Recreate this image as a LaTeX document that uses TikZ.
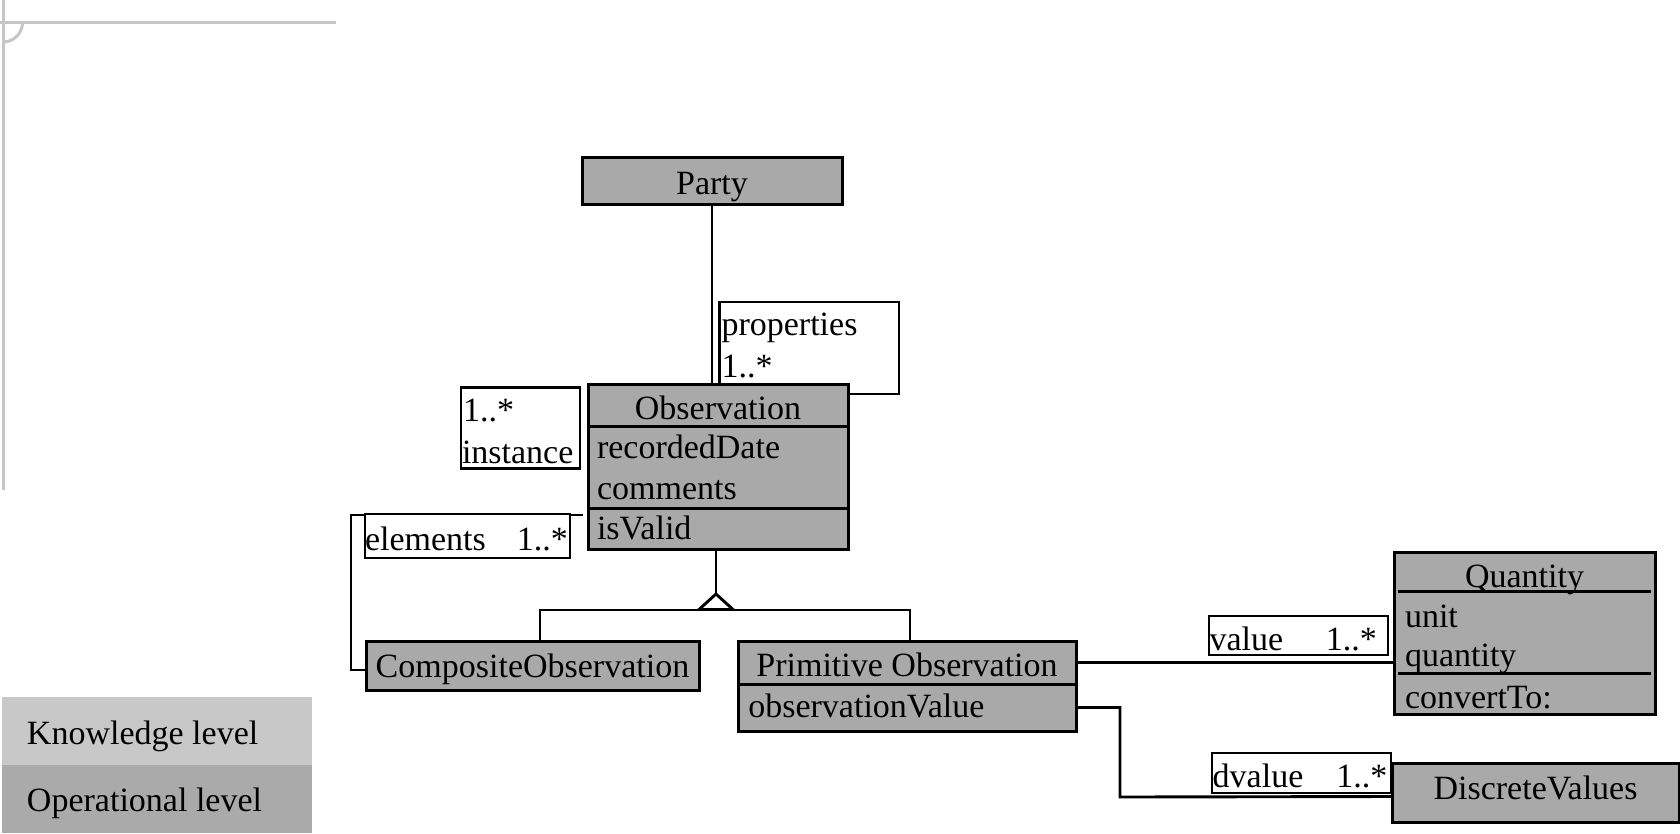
\documentclass[tikz,border=0pt]{standalone}
\usepackage{fontspec}
\setmainfont{Liberation Serif}
\usetikzlibrary{calc}

\definecolor{classfill}{HTML}{A9A9A9}
\definecolor{knowfill}{HTML}{C8C8C8}
\definecolor{opfill}{HTML}{AAAAAA}
\definecolor{framegrey}{HTML}{C6C6C6}

\tikzset{
  compart/.style={draw=black, line width=3pt, fill=classfill, anchor=north west,
    inner sep=0pt, outer sep=0pt},
  tagbox/.style={draw=black, line width=2.8pt, fill=white, anchor=north west,
    inner sep=0pt, outer sep=0pt},
  legendbox/.style={draw=none, anchor=north west, inner sep=0pt, outer sep=0pt,
    minimum width=310pt, minimum height=68pt},
  txt/.style={font=\fontsize{34}{40}\selectfont, inner sep=0pt, outer sep=0pt, anchor=base west},
  ctxt/.style={txt, anchor=base},
  link/.style={draw=black, line width=2.9pt},
  frameline/.style={draw=framegrey, line width=3pt},
}

\begin{document}
\begin{tikzpicture}[x=1pt, y=-1pt]
\useasboundingbox (0,0) rectangle (1680,833);

% page frame lines
\draw[frameline] (3,0) -- (3,490);
\draw[frameline] (0,22.5) -- (336,22.5);
\draw[frameline] (3,42) .. controls (13.8,42) and (22.5,33.3) .. (22.5,22.5);

% legend
\node[legendbox, fill=knowfill] (know) at (2,697) {};
\node[legendbox, fill=opfill] (oper) at (2,765) {};
\node[txt] (knowtxt) at (27,744.5) {Knowledge level};
\node[txt] (opertxt) at (27,811) {Operational level};

% classes
\node[compart, minimum width=260pt, minimum height=47pt] (party) at (582,157) {};
\node[ctxt] (partytxt) at (712,194) {Party};

\node[compart, minimum width=260pt, minimum height=42pt] (obstitle) at (588,384) {};
\node[compart, minimum width=260pt, minimum height=82pt] (obsattr) at (588,426) {};
\node[compart, minimum width=260pt, minimum height=41pt] (obsops) at (588,508) {};
\node[ctxt] (obsname) at (718,419.5) {Observation};
\node[txt] (obsa1) at (597,458.5) {recordedDate};
\node[txt] (obsa2) at (597,499.5) {comments};
\node[txt] (obso1) at (597,539.5) {isValid};

\node[compart, minimum width=333pt, minimum height=49pt] (comp) at (366,641) {};
\node[ctxt] (compname) at (532.5,677.5) {CompositeObservation};

\node[compart, minimum width=338pt, minimum height=43pt] (primtitle) at (738,641) {};
\node[compart, minimum width=338pt, minimum height=47pt] (primattr) at (738,684) {};
\node[ctxt] (primname) at (907,676.5) {Primitive Observation};
\node[txt] (prima1) at (748.3,717) {observationValue};

\node[compart, minimum width=261pt, minimum height=162pt] (qty) at (1394,552) {};
\draw[draw=black, line width=3pt] (1398,591) -- (1651,591);
\draw[draw=black, line width=3pt] (1398,673) -- (1651,673);
\node[ctxt] (qtyname) at (1524.5,587.5) {Quantity};
\node[txt] (qtya1) at (1405,627.5) {unit};
\node[txt] (qtya2) at (1405,666) {quantity};
\node[txt] (qtyo1) at (1405,708) {convertTo:};

\node[compart, minimum width=287pt, minimum height=59pt] (disc) at (1392,763) {};
\node[ctxt] (discname) at (1535.5,799.5) {DiscreteValues};

% Party -- Observation
\draw[link] (party.south) -- (party.south |- obstitle.north);

% properties self association
\coordinate (propcorner) at (899,302);
\draw[link] ($(obstitle.north west)+(131.5,0)$) |- (propcorner)
  |- ($(obstitle.north east)+(0,10)$);
\node[txt] (proptxt) at (721.5,335) {properties};
\node[txt] (propmult) at (721.5,377) {1..*};

% instance role
\node[tagbox, minimum width=119pt, minimum height=81pt] (instbox) at (461,387.5) {};
\node[txt] (instmult) at (463,421.5) {1..*};
\node[txt] (insttxt) at (462,463) {instance};

% elements aggregation
\coordinate (elemstart) at (583,515);
\coordinate (elemcorner) at (351,670);
\draw[link] (elemstart) -| (elemcorner) -- ($(comp.west)+(0,4.5)$);
\node[tagbox, minimum width=205pt, minimum height=44pt] (elembox) at (365,514) {};
\node[txt] (elemtxt) at (365,550.5) {elements\hspace{31pt}1..*};

% generalization
\coordinate (genapex) at (716,594);
\coordinate (genbase) at (716,610);
\draw[link] (obsops.south -| genapex) -- (genapex);
\draw[link, line join=miter] (genapex) -- ++(-17,15.5) -- ++(34,0) -- cycle;
\draw[link] ($(comp.north)+(7.5,0)$) |- (genbase) -| ($(primtitle.north)+(3,0)$);

% value association
\draw[link] (primtitle.east) -- (primtitle.east -| qty.west);
\node[tagbox, minimum width=179pt, minimum height=39pt] (valbox) at (1209,616) {};
\node[txt] (valtxt) at (1209.5,650.5) {value\hspace{42.7pt}1..*};

% dvalue association
\coordinate (dbend) at (1120,797);
\draw[link] (primattr.east) -| (dbend) -- ($(disc.west)+(0,4)$);
\node[tagbox, minimum width=179pt, minimum height=40pt] (dvalbox) at (1212,753) {};
\node[txt] (dvaltxt) at (1212.7,787) {dvalue\hspace{33pt}1..*};

\end{tikzpicture}
\end{document}
